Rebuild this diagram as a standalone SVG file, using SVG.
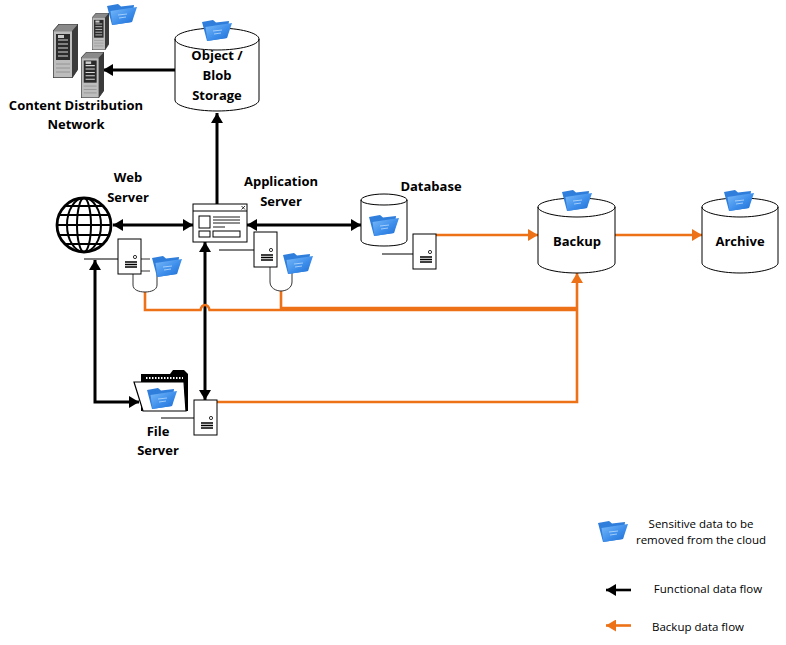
<svg xmlns="http://www.w3.org/2000/svg" xmlns:xlink="http://www.w3.org/1999/xlink" width="786" height="645" viewBox="0 0 786 645">
<style>
text{font-family:"Open Sans","Liberation Sans",sans-serif;fill:#000;text-anchor:middle}
.lb{font-size:13px;font-weight:700}
.lg{font-size:11.5px}
.sh{fill:#fff;stroke:#000;stroke-width:1}
.thin{fill:none;stroke:#000;stroke-width:1}
.bk{fill:none;stroke:#000;stroke-width:3}
.or{fill:none;stroke:#ED7117;stroke-width:2.6}
</style>
<defs>
<marker id="ab" markerUnits="userSpaceOnUse" markerWidth="11" markerHeight="12" refX="10" refY="6" orient="auto-start-reverse"><path d="M0 0L10 6L0 12Z" fill="#000"/></marker>
<marker id="ao" markerUnits="userSpaceOnUse" markerWidth="11" markerHeight="12" refX="10" refY="6" orient="auto-start-reverse"><path d="M0 0L10 6L0 12Z" fill="#ED7117"/></marker>
<linearGradient id="fg" x1="0" y1="0" x2="1" y2="1"><stop offset="0" stop-color="#7CBCFA"/><stop offset=".55" stop-color="#3D8EEB"/><stop offset="1" stop-color="#1C6BD2"/></linearGradient>
<symbol id="folder" viewBox="0 0 30 22" overflow="visible">
<path d="M0 3L11 1L14 3.500L27 2L25 19L5 22Z" fill="#2F7EDC"/>
<path d="M3.500 8L30 4L25 19L5.500 22Z" fill="url(#fg)"/>
<path d="M11 12L20 11M12 15L19 14" stroke="#B8DBFC" stroke-width=".8" fill="none"/>
</symbol>
<symbol id="tower" viewBox="0 0 25 54" preserveAspectRatio="none">
<path d="M0 7L6 0H25V45L19 54H0Z" fill="#8A8A8A" stroke="#222" stroke-width=".8"/>
<path d="M19 7L25 0V45L19 54Z" fill="#3A3A3A"/>
<rect x="1" y="7.500" width="18" height="45.500" fill="#BDBDBD"/>
<rect x="3" y="10" width="14" height="26" fill="#2B2B2B"/>
<path d="M5 16H15M5 20H15M5 24H15M5 28H15M5 32H15" stroke="#D8D8D8" stroke-width="1.200"/>
<rect x="5" y="11" width="6" height="3" fill="#CCC"/>
<path d="M3 40H17M3 44H17M3 48H17" stroke="#8A8A8A" stroke-width=".8"/>
</symbol>
<g id="srv"><rect class="sh" width="23" height="35"/><circle cx="17" cy="18" r="1.600" fill="#fff" stroke="#000" stroke-width=".8"/><path d="M7 23H19M7 25.500H19M7 28H19" stroke="#000" stroke-width="1.300"/></g>
</defs>

<g id="connectors">
<path class="bk" d="M175 70H103" marker-end="url(#ab)"/>
<path class="bk" d="M217 204V113" marker-end="url(#ab)"/>
<path class="bk" d="M113 225H193" marker-start="url(#ab)" marker-end="url(#ab)"/>
<path class="bk" d="M247 225H361" marker-start="url(#ab)" marker-end="url(#ab)"/>
<path class="bk" d="M205 242V400" marker-start="url(#ab)" marker-end="url(#ab)"/>
<path class="bk" d="M95 260V402H139" marker-start="url(#ab)" marker-end="url(#ab)"/>
<path class="or" d="M145 292V310H200.500Q201.500 305 205 305Q208.500 305 209.500 310H577"/>
<path class="or" d="M281 291V308H577"/>
<path class="or" d="M217 402H577V273" marker-end="url(#ao)"/>
<path class="or" d="M436 235H538" marker-end="url(#ao)"/>
<path class="or" d="M615 235H702" marker-end="url(#ao)"/>
</g>

<g id="cdn">
<use href="#tower" x="53" y="24" width="25" height="54"/>
<use href="#tower" x="92" y="13" width="17" height="37"/>
<use href="#tower" x="81" y="52" width="23" height="46"/>
<use href="#folder" x="107" y="3" width="30" height="22"/>
<text class="lb" x="76" y="110">Content Distribution</text>
<text class="lb" x="76" y="129">Network</text>
</g>

<g id="object-storage">
<path class="sh" d="M175 39V100C175 106 194 111 217 111S259 106 259 100V39C259 33 240 28 217 28S175 33 175 39C175 45 194 50 217 50S259 45 259 39"/>
<use href="#folder" x="202" y="19" width="30" height="22"/>
<text class="lb" x="217" y="60">Object /</text>
<text class="lb" x="217" y="80">Blob</text>
<text class="lb" x="217" y="100">Storage</text>
</g>

<g id="web-server">
<circle cx="84" cy="225" r="27" fill="#fff" stroke="#000" stroke-width="2.800"/>
<g fill="none" stroke="#000" stroke-width="2">
<ellipse cx="84" cy="225" rx="17" ry="27"/><ellipse cx="84" cy="225" rx="7" ry="27"/><path d="M57 225H111M59 215H109M59 235H109M65 206H103M65 244H103"/>
</g>
<path class="thin" d="M84 259H118"/>
<path d="M140 259H150M140 271H150M133 274V285C133 290 139 292 145 292S157 290 157 285V274" fill="none" stroke="#333" stroke-width="1"/>
<use href="#srv" x="118" y="239"/>
<use href="#folder" x="152" y="255" width="30" height="22"/>
<text class="lb" x="128" y="182">Web</text>
<text class="lb" x="128" y="202">Server</text>
</g>

<g id="application-server">
<rect class="sh" x="193" y="204" width="54" height="38"/>
<path class="thin" d="M193 211H247"/>
<path d="M241.500 206L245 209.500M245 206L241.500 209.500" stroke="#000" stroke-width=".8"/>
<rect class="thin" x="199" y="216" width="11" height="12"/>
<path d="M213 217H240M213 220H240M213 223H240M213 227H225" stroke="#000" stroke-width=".9"/>
<rect class="thin" x="199" y="231" width="11" height="6"/>
<rect class="thin" x="213" y="231" width="27" height="6"/>
<path class="thin" d="M219 250H254"/>
<path d="M270 267V282C270 288 276 291 281 291S292 288 292 282V270" fill="none" stroke="#333" stroke-width="1"/>
<use href="#srv" x="254" y="232"/>
<use href="#folder" x="283" y="252" width="30" height="22"/>
<text class="lb" x="281" y="186">Application</text>
<text class="lb" x="281" y="206">Server</text>
</g>

<g id="database">
<path class="sh" d="M361 200V240C361 244 371 246 384 246S407 244 407 240V200C407 197 397 194 384 194S361 197 361 200C361 203 371 205 384 205S407 203 407 200"/>
<use href="#folder" x="369" y="214" width="30" height="22"/>
<path class="thin" d="M382 254H413" stroke="#444"/>
<use href="#srv" x="413" y="234"/>
<text class="lb" x="431" y="191">Database</text>
</g>

<g id="backup">
<path class="sh" d="M538 207V263C538 268 555 273 577 273S615 268 615 263V207C615 202 598 198 577 198S538 202 538 207C538 212 555 217 577 217S615 212 615 207"/>
<use href="#folder" x="562" y="189" width="30" height="22"/>
<text class="lb" x="577" y="246">Backup</text>
</g>

<g id="archive">
<path class="sh" d="M702 207V263C702 268 719 273 740 273S778 268 778 263V207C778 202 761 198 740 198S702 202 702 207C702 212 719 217 740 217S778 212 778 207"/>
<use href="#folder" x="724" y="189" width="30" height="22"/>
<text class="lb" x="740" y="246">Archive</text>
</g>

<g id="file-server">
<path d="M141 381V374H170L173 370H184L188 374V411H141Z" fill="#000"/>
<path d="M146 378H183" stroke="#fff" stroke-width="2" stroke-dasharray="1.500 1.500"/>
<path d="M134 382H184L186 411H143Z" fill="#fff" stroke="#000" stroke-width="1.200"/>
<use href="#folder" x="147" y="387" width="30" height="22"/>
<path class="thin" d="M161 418H194" stroke="#444"/>
<use href="#srv" x="194" y="400"/>
<text class="lb" x="158" y="436">File</text>
<text class="lb" x="158" y="455">Server</text>
</g>

<g id="legend">
<use href="#folder" x="598" y="520" width="30" height="22"/>
<text class="lg" x="701" y="528">Sensitive data to be</text>
<text class="lg" x="701" y="544">removed from the cloud</text>
<path d="M631 590H606" fill="none" stroke="#000" stroke-width="2.600" marker-end="url(#ab)"/>
<text class="lg" x="708" y="593">Functional data flow</text>
<path d="M631 625.500H606" fill="none" stroke="#ED7117" stroke-width="2.600" marker-end="url(#ao)"/>
<text class="lg" x="698" y="631">Backup data flow</text>
</g>
</svg>
